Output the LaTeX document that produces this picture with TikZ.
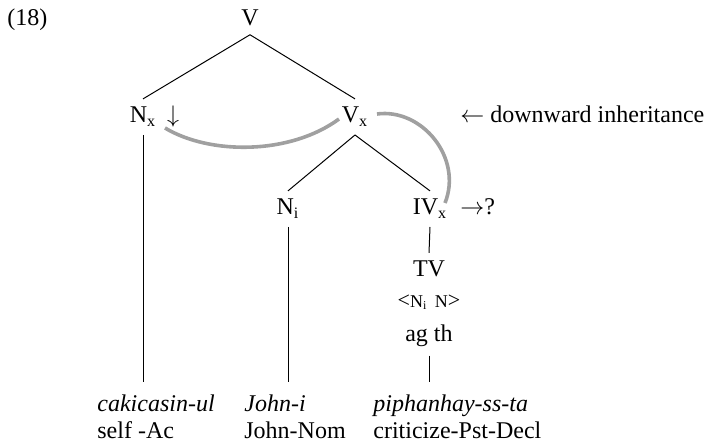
\documentclass[tikz,border=0pt]{standalone}
\usepackage{fontspec}
\setmainfont{Liberation Serif}
\usetikzlibrary{calc}
\definecolor{arcgray}{RGB}{160,160,160}

\begin{document}
\begin{tikzpicture}[x=0.5pt, y=-0.5pt,
  every node/.style={font=\fontsize{12}{13.5}\selectfont},
  cat/.style={anchor=base, inner xsep=1pt, inner ysep=4pt},
  note/.style={anchor=base west, inner sep=1pt},
  gloss/.style={anchor=north west, align=left, inner xsep=0pt, inner ysep=6pt},
  branch/.style={line width=0.5pt},
  inherit/.style={draw=arcgray, line width=1.8pt}]
  \useasboundingbox (0,0) rectangle (718,443);
  % tree nodes
  \node[note] (ex) at (5,26) {(18)};
  \node[cat] (v) at (250,26) {V};
  \node[cat] (nx) at (143,123) {N\textsubscript{x}};
  \node[cat] (darr) at (173,123) {$\downarrow$};
  \node[cat] (vx) at (355,123) {V\textsubscript{x}};
  \node[note] (down) at (458,123) {$\leftarrow$ downward inheritance};
  \node[cat] (ni) at (288,215) {N\textsubscript{i}};
  \node[cat] (ivx) at (430,215) {IV\textsubscript{x}};
  \node[note] (what) at (458,215) {$\rightarrow$?};
  \node[cat] (tv) at (429,277) {TV};
  \node[cat] (args) at (429,308) {{\fontsize{11}{12}\selectfont <}{\fontsize{9}{10}\selectfont N\textsubscript{i}\, N}{\fontsize{11}{12}\selectfont >}};
  \node[cat] (roles) at (429,342) {ag th};
  % words and glosses
  \node[gloss] (caki) at (97,382) {\textit{cakicasin-ul}\\self -Ac};
  \node[gloss] (john) at (244,382) {\textit{John-i}\\John-Nom};
  \node[gloss] (piph) at (373,382) {\textit{piphanhay-ss-ta}\\criticize-Pst-Decl};
  % branches
  \draw[branch] (v.south) -- (nx.north);
  \draw[branch] (v.south) -- (vx.north);
  \draw[branch] (vx.south) -- (ni.north);
  \draw[branch] (vx.south) -- (ivx.north);
  \draw[branch] (ivx.south) -- (tv.north);
  \draw[branch] (nx.south) -- (nx.south |- caki.north);
  \draw[branch] (ni.south) -- (ni.south |- john.north);
  \draw[branch] (roles.south) -- (roles.south |- piph.north);
  % inheritance arcs
  \draw[inherit] ($(darr.base)+(-8,5)$) .. controls +(45,27) and +(-49,36) .. ($(vx.base)+(-16,-4)$);
  \draw[inherit] ($(vx.base)+(22,-9)$) .. controls +(45,-6) and +(18,-45) .. ($(ivx.base)+(15,-12)$);
\end{tikzpicture}
\end{document}
